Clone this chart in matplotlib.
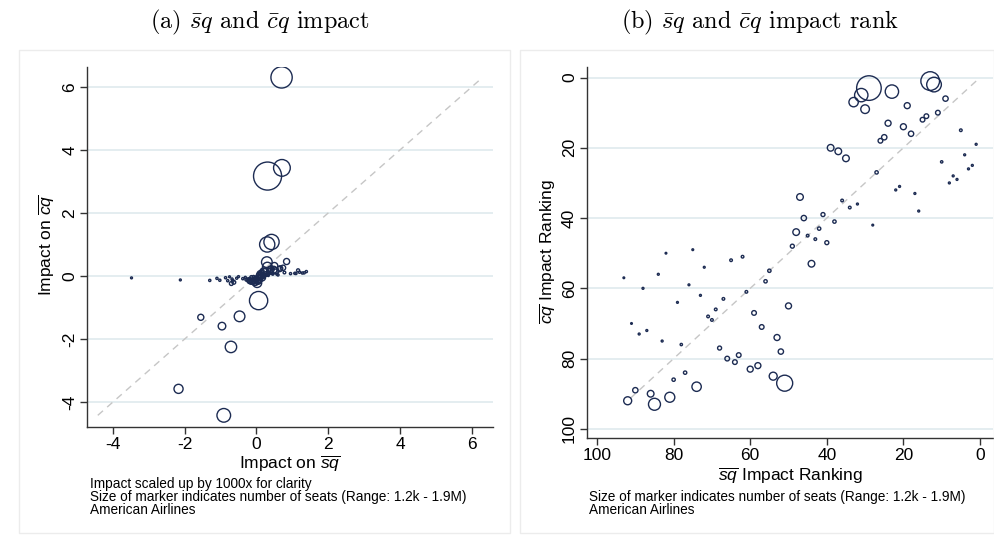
import pandas as pd
import matplotlib
matplotlib.use('Agg')
import matplotlib.pyplot as plt
from matplotlib.patches import Rectangle

# one entry per airport (American Airlines), same order in every list
sq_rank = [29, 31, 33, 30, 23, 13, 12, 19, 9, 11, 14, 15, 24, 20, 18, 25, 26, 5, 1, 39,
           37, 35, 4, 10, 2, 3, 27, 7, 6, 8, 21, 22, 17, 47, 36, 32, 34, 16, 41, 46,
           38, 28, 42, 48, 45, 43, 40, 49, 75, 82, 62, 65, 44, 72, 55, 84, 93, 56, 76, 88,
           61, 73, 67, 79, 50, 69, 59, 71, 70, 91, 57, 87, 89, 53, 83, 78, 68, 52, 63, 66,
           64, 58, 60, 77, 54, 80, 51, 74, 90, 86, 81, 92, 85]
cq_rank = [3, 5, 7, 9, 4, 1, 2, 8, 6, 10, 11, 12, 13, 14, 16, 17, 18, 15, 19, 20,
           21, 23, 22, 24, 25, 26, 27, 28, 29, 30, 31, 32, 33, 34, 35, 36, 37, 38, 39, 40,
           41, 42, 43, 44, 45, 46, 47, 48, 49, 50, 51, 52, 53, 54, 55, 56, 57, 58, 59, 60,
           61, 62, 63, 64, 65, 66, 67, 68, 69, 70, 71, 72, 73, 74, 75, 76, 77, 78, 79, 80,
           81, 82, 83, 84, 85, 86, 87, 88, 89, 90, 91, 92, 93]
sq_impact = [0.31, 0.30, 0.29, 0.305, 0.42, 0.70, 0.71, 0.50, 0.84, 0.74, 0.66, 0.64, 0.40, 0.48, 0.54, 0.38, 0.36, 1.16, 1.39, 0.20,
             0.22, 0.25, 1.20, 0.78, 1.33, 1.28, 0.34, 1.07, 1.10, 0.95, 0.46, 0.45, 0.57, 0.12, 0.24, 0.295, 0.27, 0.60, 0.18, 0.13,
             0.21, 0.33, 0.17, 0.10, 0.14, 0.16, 0.19, 0.09, -0.50, -0.75, -0.08, -0.14, 0.15, -0.31, 0.01, -0.86, -3.48, 0.00, -0.55, -1.10,
             -0.06, -0.38, -0.18, -0.68, 0.08, -0.22, -0.03, -0.28, -0.25, -2.12, -0.01, -1.02, -1.30, 0.03, -0.80, -0.66, -0.20, 0.05, -0.10, -0.16,
             -0.12, -0.02, -0.05, -0.63, 0.02, -0.70, 0.06, -0.47, -1.55, -0.96, -0.71, -2.17, -0.91]
cq_impact = [3.17, 1.00, 0.44, 0.28, 1.08, 6.30, 3.43, 0.32, 0.46, 0.26, 0.24, 0.22, 0.21, 0.20, 0.17, 0.16, 0.15, 0.18, 0.14, 0.135,
             0.13, 0.115, 0.12, 0.11, 0.10, 0.095, 0.09, 0.085, 0.08, 0.075, 0.07, 0.065, 0.06, 0.055, 0.05, 0.045, 0.04, 0.035, 0.03, 0.025,
             0.02, 0.015, 0.01, 0.005, 0.0, -0.005, -0.01, -0.015, -0.02, -0.025, -0.03, -0.035, -0.04, -0.045, -0.05, -0.055, -0.06, -0.065, -0.07, -0.075,
             -0.08, -0.085, -0.09, -0.095, -0.10, -0.105, -0.11, -0.115, -0.12, -0.125, -0.13, -0.135, -0.14, -0.145, -0.15, -0.155, -0.16, -0.165, -0.17, -0.175,
             -0.18, -0.185, -0.19, -0.20, -0.22, -0.24, -0.78, -1.28, -1.31, -1.59, -2.25, -3.58, -4.42]
seats_k = [1900, 560, 275, 235, 560, 1095, 675, 113, 89, 68, 68, 68, 113, 113, 89, 89, 68, 22, 12, 139,
           139, 139, 12, 17, 12, 12, 35, 12, 12, 12, 12, 12, 12, 139, 22, 12, 22, 12, 50, 89,
           35, 10, 35, 139, 22, 22, 50, 50, 10, 7, 22, 22, 139, 11, 35, 12, 1.2, 35, 11, 12,
           22, 12, 22, 11, 113, 22, 68, 22, 22, 7, 68, 12, 12, 113, 12, 17, 50, 89, 68, 68,
           68, 113, 113, 35, 200, 35, 805, 275, 89, 139, 315, 200, 450]

impact_ticks = [-4, -2, 0, 2, 4, 6]
rank_ticks = [0, 20, 40, 60, 80, 100]
diag_impact = [-4.42, 6.30]
diag_rank = [1, 92]

notes_left = ['Impact scaled up by 1000x for clarity',
              'Size of marker indicates number of seats (Range: 1.2k - 1.9M)',
              'American Airlines']
notes_right = ['Size of marker indicates number of seats (Range: 1.2k - 1.9M)',
               'American Airlines']

df = pd.DataFrame({'sq_rank': sq_rank, 'cq_rank': cq_rank, 'sq': sq_impact,
                   'cq': cq_impact, 'seats': seats_k})
df['msize'] = (df['seats'] * 0.165).clip(lower=1.5)

plt.rcParams['font.family'] = ['Liberation Sans', 'DejaVu Sans']
plt.rcParams['mathtext.fontset'] = 'custom'
plt.rcParams['mathtext.rm'] = 'Liberation Sans'
plt.rcParams['mathtext.it'] = 'Liberation Sans:italic'
plt.rcParams['axes.unicode_minus'] = False

NAVY = '#1c2b52'
GRID = '#e4edf0'
W, H = 994, 535

fig = plt.figure(figsize=(9.94, 5.35), dpi=100)


def fx(px):
    return px / W


def fy(py):
    return 1 - py / H


def style_axes(ax):
    for side in ['top', 'right']:
        ax.spines[side].set_visible(False)
    for side in ['left', 'bottom']:
        ax.spines[side].set_color('#333333')
        ax.spines[side].set_linewidth(1.0)
    ax.tick_params(direction='out', length=5, width=1, color='#333333', labelsize=12.5, pad=2)
    ax.tick_params(axis='y', labelrotation=90)
    for t in ax.get_yticklabels():
        t.set_va('center')
    ax.yaxis.grid(True, color=GRID, lw=1.4)
    ax.xaxis.grid(False)
    ax.set_axisbelow(True)


# subfigure frames
for x0, x1 in [(19, 510), (520, 994)]:
    fig.add_artist(Rectangle((fx(x0), fy(533)), fx(x1 - x0), (533 - 50) / H,
                             transform=fig.transFigure, fill=False, ec='#ececec', lw=1))

# (a) impact
ax1 = fig.add_axes([fx(87), fy(427), fx(493 - 87), (427 - 67) / H])
ax1.plot(diag_impact, diag_impact, ls=(0, (5, 4)), color='#c6c6c6', lw=1, zorder=2)
ax1.scatter(df['sq'], df['cq'], s=df['msize'] * 1.3, facecolors='none',
            edgecolors=NAVY, linewidths=1.0, zorder=3)
ax1.set_xlim(-4.72, 6.59)
ax1.set_ylim(-4.79, 6.63)
ax1.set_xticks(impact_ticks)
ax1.set_yticks(impact_ticks)
style_axes(ax1)

# (b) impact rank
ax2 = fig.add_axes([fx(586.7), fy(438), fx(993 - 586.7), (438 - 67) / H])
ax2.plot(diag_rank, diag_rank, ls=(0, (5, 4)), color='#c6c6c6', lw=1, zorder=2)
ax2.scatter(df['sq_rank'], df['cq_rank'], s=df['msize'], facecolors='none',
            edgecolors=NAVY, linewidths=1.0, zorder=3)
ax2.set_xlim(102.7, -3.4)
ax2.set_ylim(102.6, -3.0)
ax2.set_xticks(rank_ticks)
ax2.set_yticks(rank_ticks)
style_axes(ax2)

# titles
fig.text(fx(260), fy(22), r'(a) $\bar{s}q$ and $\bar{c}q$ impact', fontfamily='cmr10',
         math_fontfamily='cm', fontsize=17.5, ha='center', va='center')
fig.text(fx(760), fy(22), r'(b) $\bar{s}q$ and $\bar{c}q$ impact rank', fontfamily='cmr10',
         math_fontfamily='cm', fontsize=17.5, ha='center', va='center')

# axis titles
fig.text(fx(290), fy(464), r'Impact on $\overline{sq}$', fontsize=12.5, ha='center', va='center')
fig.text(fx(47), fy(245), r'Impact on $\overline{cq}$', fontsize=12.5, ha='center', va='center',
         rotation=90)
fig.text(fx(790), fy(476), r'$\overline{sq}$ Impact Ranking', fontsize=12.5, ha='center', va='center')
fig.text(fx(548), fy(252), r'$\overline{cq}$ Impact Ranking', fontsize=12.5, ha='center', va='center',
         rotation=90)

# notes
for i, line in enumerate(notes_left):
    fig.text(fx(90), fy(484 + 13 * i), line, fontsize=9.8, ha='left', va='center')
for i, line in enumerate(notes_right):
    fig.text(fx(589), fy(497 + 13 * i), line, fontsize=9.8, ha='left', va='center')

fig.savefig('out.png', dpi=100)
